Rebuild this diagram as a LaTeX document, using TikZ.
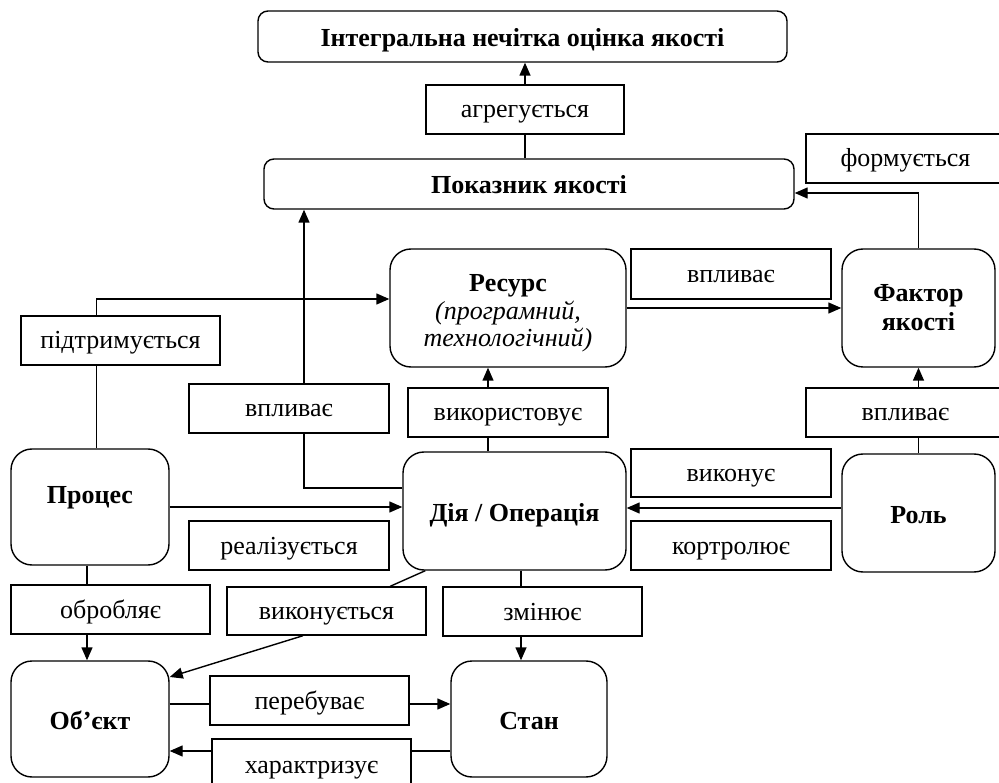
\documentclass[tikz,border=0pt]{standalone}
\usepackage{fontspec}
\setmainfont{Liberation Serif}
\usetikzlibrary{arrows.meta}

\tikzset{
  entity/.style={draw,line width=1.4pt,rounded corners=21pt,align=center,
    font=\fontsize{26}{29}\selectfont\bfseries,inner sep=0pt},
  one/.style={text height=20pt,text depth=0pt},
  bar/.style={entity,one,rounded corners=10pt},
  rel/.style={draw,line width=1.4pt,fill=white,inner sep=0pt,
    text height=17pt,text depth=0pt,font=\fontsize{26}{29}\selectfont},
  link/.style={line width=1.4pt},
  arr/.style={link,-{Triangle[length=13pt,width=11pt]}}
}

\begin{document}
\begin{tikzpicture}[x=1pt,y=-1pt]
  \useasboundingbox (0,0) rectangle (999,783);

  % entities
  \node[bar,minimum width=529pt,minimum height=51pt] (integr) at (522.5,36.5) {Інтегральна нечітка оцінка якості};
  \node[bar,minimum width=530pt,minimum height=50pt] (pokaz) at (529,184) {Показник якості};
  \node[entity,minimum width=236pt,minimum height=118pt] (resurs) at (508,308)
    {\rule{0pt}{28pt}Ресурс\\[-1pt]{\mdseries\itshape (програмний,}\\[-2pt]{\mdseries\itshape технологічний)}};
  \node[entity,minimum width=153pt,minimum height=118pt] (faktor) at (918.5,308) {Фактор\\якості};
  \node[entity,one,minimum width=223pt,minimum height=118pt] (diya) at (514.5,511) {Дія / Операція};
  \node[entity,one,minimum width=153pt,minimum height=118pt] (rol) at (918.5,513) {Роль};
  \node[entity,text height=17pt,text depth=25pt,minimum width=158pt,minimum height=116pt] (proces) at (90,507) {Процес};
  \node[entity,one,minimum width=158pt,minimum height=116pt] (obj) at (90,719) {Об’єкт};
  \node[entity,one,minimum width=156pt,minimum height=116pt] (stan) at (529,719) {Стан};

  % relations
  \node[rel,minimum width=198pt,minimum height=49pt] (agreg) at (525,109.5) {агрегується};
  \node[rel,minimum width=199pt,minimum height=49pt] (formu) at (905.5,158.5) {формується};
  \node[rel,minimum width=200pt,minimum height=50pt] (vplyvA) at (731,274) {впливає};
  \node[rel,minimum width=199pt,minimum height=49pt] (pidtr) at (120.5,340.5) {підтримується};
  \node[rel,minimum width=200pt,minimum height=49pt] (vplyvB) at (289,408.5) {впливає};
  \node[rel,minimum width=200pt,minimum height=49pt] (vykor) at (508,412.5) {використовує};
  \node[rel,minimum width=199pt,minimum height=49pt] (vplyvC) at (905.5,412.5) {впливає};
  \node[rel,minimum width=200pt,minimum height=48pt] (vykon) at (731,473) {виконує};
  \node[rel,minimum width=200pt,minimum height=49pt] (kontr) at (731,545.5) {кортролює};
  \node[rel,minimum width=200pt,minimum height=49pt] (realiz) at (289,545.5) {реалізується};
  \node[rel,minimum width=199pt,minimum height=49pt] (obrob) at (110.5,609.5) {обробляє};
  \node[rel,minimum width=199pt,minimum height=48pt] (vykonsya) at (326.5,611) {виконується};
  \node[rel,minimum width=199pt,minimum height=49pt] (zmin) at (542.5,611.5) {змінює};
  \node[rel,minimum width=199pt,minimum height=49pt] (pereb) at (309.5,700.5) {перебуває};
  \node[rel,minimum width=199pt,minimum height=51pt] (kharakt) at (311.5,764.5) {характризує};

  % connectors
  \draw[arr] (agreg.north) -- (agreg.north |- integr.south);
  \draw[link] (agreg.south) -- (agreg.south |- pokaz.north);
  \draw[arr] (faktor.north) |- ([yshift=-9pt]pokaz.east);
  \draw[link] ([yshift=23pt]diya.west) -| ([xshift=15pt]vplyvB.south);
  \draw[arr] ([xshift=15pt]vplyvB.north) -- ([xshift=15pt]vplyvB.north |- pokaz.south);
  \draw[arr] ([xshift=-24pt]pidtr.north) |- ([yshift=9pt]resurs.west);
  \draw[link] ([xshift=-24pt]pidtr.south) -- ([xshift=-24pt]pidtr.south |- proces.north);
  \draw[arr] (resurs.east) -- (faktor.west);
  \draw[arr] ([xshift=-20pt]vykor.north) -- ([xshift=-20pt]vykor.north |- resurs.south);
  \draw[link] ([xshift=-20pt]vykor.south) -- ([xshift=-20pt]vykor.south |- diya.north);
  \draw[arr] (faktor.south |- vplyvC.north) -- (faktor.south);
  \draw[link] (rol.north |- vplyvC.south) -- (rol.north);
  \draw[arr] ([yshift=5pt]rol.west) -- ([yshift=5pt]rol.west -| diya.east);
  \draw[arr] (proces.east) -- (proces.east -| diya.west);
  \draw[link] ([xshift=-3pt]proces.south) -- ([xshift=-3pt]proces.south |- obrob.north);
  \draw[arr] ([xshift=-3pt]obj.north |- obrob.south) -- ([xshift=-3pt]obj.north);
  \draw[link] ([xshift=23pt]diya.south west) -- ([xshift=-36.5pt]vykonsya.north east);
  \draw[arr] ([xshift=-23.5pt]vykonsya.south) -- ([yshift=42pt]obj.east);
  \draw[link] ([xshift=6.5pt]diya.south) -- ([xshift=6.5pt]diya.south |- zmin.north);
  \draw[arr] ([xshift=-8pt]stan.north |- zmin.south) -- ([xshift=-8pt]stan.north);
  \draw[link] ([yshift=15pt]obj.east) -- ([yshift=15pt]obj.east -| pereb.west);
  \draw[arr] ([yshift=15pt]stan.west -| pereb.east) -- ([yshift=15pt]stan.west);
  \draw[link] ([yshift=-32pt]stan.west) -- ([yshift=-32pt]stan.west -| kharakt.east);
  \draw[arr] ([yshift=-32pt]obj.east -| kharakt.west) -- ([yshift=-32pt]obj.east);
\end{tikzpicture}
\end{document}
